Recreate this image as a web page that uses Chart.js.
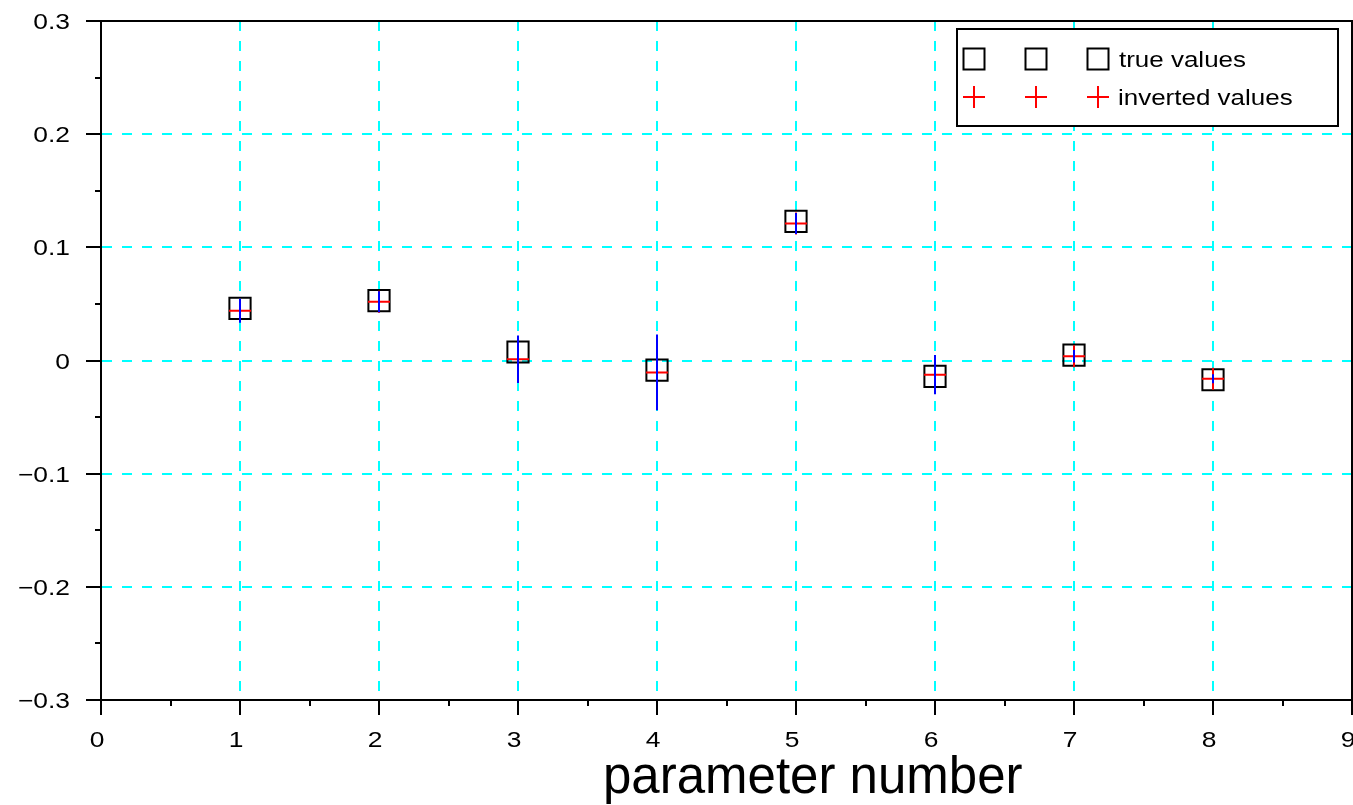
<!DOCTYPE html>
<html>
<head>
  <meta charset="utf-8">
  <script src="https://cdn.jsdelivr.net/npm/chart.js@4.4.0/dist/chart.umd.min.js"></script>
  <style>
    body { margin: 0; background: #ffffff; }
    canvas { display: block; }
  </style>
</head>
<body>
  <canvas id="paramCanvas" width="1353" height="805"></canvas>

  <script>
    const paramNumbers = [1, 2, 3, 4, 5, 6, 7, 8];
    const trueValues = [0.046, 0.053, 0.0075, -0.0085, 0.123, -0.014, 0.0047, -0.017];
    const invertedValues = [0.044, 0.052, 0.0012, -0.0105, 0.121, -0.0125, 0.0038, -0.0162];
    const invertedErrors = [0.0106, 0.0093, 0.021, 0.0335, 0.0093, 0.0174, 0.0055, 0.004];

    const xTicks = [0, 1, 2, 3, 4, 5, 6, 7, 8, 9];
    const xTickLabels = ['0', '1', '2', '3', '4', '5', '6', '7', '8', '9'];
    const yTicks = [-0.3, -0.2, -0.1, 0, 0.1, 0.2, 0.3];
    const yTickLabels = ['\u22120.3', '\u22120.2', '\u22120.1', '0', '0.1', '0.2', '0.3'];

    const legendLabels = ['true values', 'inverted values'];
    const xTitle = 'parameter number';

    const FONT = '"Liberation Sans", Arial, Helvetica, sans-serif';
    const GRID_CYAN = '#00ffff';

    // labels are a bit wider than the plain font
    function wideText(ctx, text, x, y, align, sx) {
      ctx.save();
      ctx.translate(x, y);
      ctx.scale(sx, 1);
      ctx.textAlign = align;
      ctx.fillText(text, 0, 0);
      ctx.restore();
    }

    const frameAndErrors = {
      id: 'frameAndErrors',
      beforeDatasetsDraw(chart) {
        const ctx = chart.ctx;
        const a = chart.chartArea;
        const xs = chart.scales.x;
        const ys = chart.scales.y;
        ctx.save();
        ctx.strokeStyle = '#000';
        ctx.lineWidth = 2;
        // top and right edges of the box
        ctx.beginPath();
        ctx.moveTo(a.left, a.top);
        ctx.lineTo(a.right, a.top);
        ctx.lineTo(a.right, a.bottom);
        ctx.stroke();

        // minor ticks
        ctx.beginPath();
        for (let v = 0.5; v < 9; v += 1) {
          const px = Math.round(xs.getPixelForValue(v));
          ctx.moveTo(px, a.bottom);
          ctx.lineTo(px, a.bottom + 6);
        }
        for (let k = -5; k <= 5; k += 2) {
          const py = Math.round(ys.getPixelForValue(k * 0.05));
          ctx.moveTo(a.left, py);
          ctx.lineTo(a.left - 6, py);
        }
        ctx.stroke();
        ctx.restore();
      },
      afterDatasetsDraw(chart) {
        const ctx = chart.ctx;
        const xs = chart.scales.x;
        const ys = chart.scales.y;
        ctx.save();
        ctx.strokeStyle = '#0000ff';
        ctx.lineWidth = 2;
        ctx.beginPath();
        paramNumbers.forEach((p, i) => {
          const px = xs.getPixelForValue(p);
          ctx.moveTo(px, ys.getPixelForValue(invertedValues[i] + invertedErrors[i]));
          ctx.lineTo(px, ys.getPixelForValue(invertedValues[i] - invertedErrors[i]));
        });
        ctx.stroke();
        ctx.restore();
      },
      afterDraw(chart) {
        const ctx = chart.ctx;
        const a = chart.chartArea;
        const xs = chart.scales.x;
        const ys = chart.scales.y;
        ctx.save();
        ctx.fillStyle = '#000';

        // tick labels
        ctx.font = '22px ' + FONT;
        ctx.textBaseline = 'alphabetic';
        xTicks.forEach((v, i) => {
          wideText(ctx, xTickLabels[i], xs.getPixelForValue(v) - 4, a.bottom + 47, 'center', 1.2);
        });
        yTicks.forEach((v, i) => {
          wideText(ctx, yTickLabels[i], a.left - 31, ys.getPixelForValue(v) + 8, 'right', 1.2);
        });

        // axis title
        ctx.font = '51px ' + FONT;
        ctx.textAlign = 'left';
        ctx.fillText(xTitle, a.left + 502, a.bottom + 93);

        // legend box
        const bx = 957, by = 29, bw = 381, bh = 97;
        ctx.fillStyle = '#fff';
        ctx.fillRect(bx, by, bw, bh);
        ctx.strokeStyle = '#000';
        ctx.lineWidth = 2;
        ctx.strokeRect(bx, by, bw, bh);

        const markX = [974, 1036, 1098];
        markX.forEach(mx => {
          ctx.strokeStyle = '#000';
          ctx.strokeRect(mx - 10.5, 59 - 10.5, 21, 21);
          ctx.strokeStyle = '#ff0000';
          ctx.beginPath();
          ctx.moveTo(mx - 11, 97);
          ctx.lineTo(mx + 11, 97);
          ctx.moveTo(mx, 86);
          ctx.lineTo(mx, 108);
          ctx.stroke();
        });
        ctx.fillStyle = '#000';
        ctx.font = '22px ' + FONT;
        wideText(ctx, legendLabels[0], 1119, 67, 'left', 1.18);
        wideText(ctx, legendLabels[1], 1118, 105, 'left', 1.18);
        ctx.restore();
      }
    };

    const paramContext = document.getElementById('paramCanvas').getContext('2d');

    let paramChart = new Chart(paramContext, {
      type: 'scatter',
      data: {
        datasets: [{
          label: 'inverted values',
          data: paramNumbers.map((p, i) => ({ x: p, y: invertedValues[i] })),
          pointStyle: 'cross',
          pointRadius: 11,
          pointBorderColor: '#ff0000',
          pointBackgroundColor: '#ff0000',
          pointBorderWidth: 2
        }, {
          label: 'true values',
          data: paramNumbers.map((p, i) => ({ x: p, y: trueValues[i] })),
          pointStyle: 'rect',
          pointRadius: 15,
          pointBorderColor: '#000000',
          pointBackgroundColor: 'rgba(0,0,0,0)',
          pointBorderWidth: 2
        }]
      },
      options: {
        responsive: false,
        animation: false,
        layout: { autoPadding: false, padding: { top: 21, right: 1, left: 0, bottom: 0 } },
        plugins: {
          legend: { display: false },
          tooltip: { enabled: false }
        },
        scales: {
          x: {
            type: 'linear',
            min: 0,
            max: 9,
            afterFit: (scale) => {
              scale.height = 105;
              scale.paddingLeft = 0;
              scale.paddingRight = 0;
            },
            ticks: { stepSize: 1, display: false },
            grid: {
              color: (c) => (c.tick && (c.tick.value === 0 || c.tick.value === 9)) ? 'rgba(0,0,0,0)' : GRID_CYAN,
              lineWidth: 2,
              tickLength: 15,
              tickColor: '#000',
              tickWidth: 2,
              tickBorderDash: []
            },
            border: { display: true, color: '#000', width: 2, dash: [10, 10] }
          },
          y: {
            type: 'linear',
            min: -0.3,
            max: 0.3,
            afterFit: (scale) => {
              scale.width = 101;
              scale.paddingTop = 0;
              scale.paddingBottom = 0;
            },
            ticks: { stepSize: 0.1, display: false },
            grid: {
              color: (c) => (c.tick && Math.abs(c.tick.value) > 0.29) ? 'rgba(0,0,0,0)' : GRID_CYAN,
              lineWidth: 2,
              tickLength: 15,
              tickColor: '#000',
              tickWidth: 2,
              tickBorderDash: []
            },
            border: { display: true, color: '#000', width: 2, dash: [10, 10] }
          }
        }
      },
      plugins: [frameAndErrors]
    });
  </script>
</body>
</html>
